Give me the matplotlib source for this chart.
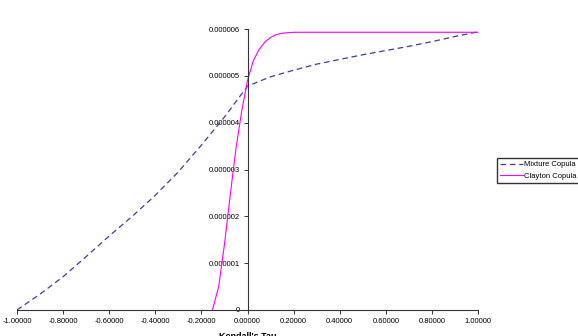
import numpy as np
import matplotlib
matplotlib.use("Agg")
import matplotlib.pyplot as plt

# Mixture copula (dashed)
mix_tau = [-1.0, -0.9, -0.8, -0.7, -0.6, -0.5, -0.4, -0.3, -0.2, -0.1, 0.0,
           0.1, 0.2, 0.3, 0.4, 0.5, 0.6, 0.7, 0.8, 0.9, 1.0]
mix_val = [0.0, 0.34, 0.71, 1.14, 1.58, 2.0, 2.45, 2.95, 3.52, 4.12, 4.78,
           4.98, 5.12, 5.25, 5.35, 5.45, 5.54, 5.63, 5.73, 5.84, 5.94]

# Clayton copula (solid)
clay_tau = [-0.152, -0.125, -0.1, -0.075, -0.05, -0.025, 0.0, 0.025, 0.05,
            0.075, 0.1, 0.125, 0.15, 0.2, 0.3, 0.5, 0.7, 1.0]
clay_val = [0.0, 0.5, 1.4, 2.45, 3.45, 4.25, 4.9, 5.32, 5.56, 5.72, 5.82,
            5.88, 5.91, 5.93, 5.93, 5.93, 5.93, 5.93]

x_ticks = [-1.0, -0.8, -0.6, -0.4, -0.2, 0.0, 0.2, 0.4, 0.6, 0.8, 1.0]
y_ticks = [0, 1, 2, 3, 4, 5, 6]  # x 1e-6

plt.rcParams["font.family"] = ["Liberation Sans", "DejaVu Sans"]

fig = plt.figure(figsize=(5.78, 3.36), dpi=100)
ax = fig.add_axes([17 / 578, 1 - 310 / 336, 461 / 578, 281 / 336])

ax.plot(mix_tau, np.array(mix_val) * 1e-6, color="#3c3ca0", lw=0.9,
        dashes=[4.5, 3], label="Mixture Copula")
ax.plot(clay_tau, np.array(clay_val) * 1e-6, color="#ff00ff", lw=0.8,
        label="Clayton Copula")

ax.set_xlim(-1, 1)
ax.set_ylim(0, 6e-6)

ax.spines["left"].set_position(("data", 0))
ax.spines["bottom"].set_position(("data", 0))
ax.spines["top"].set_visible(False)
ax.spines["right"].set_visible(False)
for s in ("left", "bottom"):
    ax.spines[s].set_linewidth(0.8)
    ax.spines[s].set_color("#333333")

ax.set_xticks(x_ticks)
ax.set_xticklabels([f"{t:.5f}" for t in x_ticks])
ax.set_yticks([v * 1e-6 for v in y_ticks])
ax.set_yticklabels(["0" if v == 0 else f"{v * 1e-6:.6f}" for v in y_ticks])
ax.tick_params(axis="both", labelsize=5.5, length=3, width=0.7,
               direction="out", pad=2.5, colors="#333333", labelcolor="black")

ax.set_xlabel("Kendall's Tau", fontsize=6.5, fontweight="bold", labelpad=5)

fig.legend(loc="upper left", bbox_to_anchor=(497 / 578, 1 - 158 / 336),
           fontsize=5.5, frameon=True, fancybox=False, edgecolor="black",
           borderpad=0.4, handlelength=3.0, handletextpad=0.15,
           labelspacing=0.5, borderaxespad=0)

fig.savefig("out.png", dpi=100)
